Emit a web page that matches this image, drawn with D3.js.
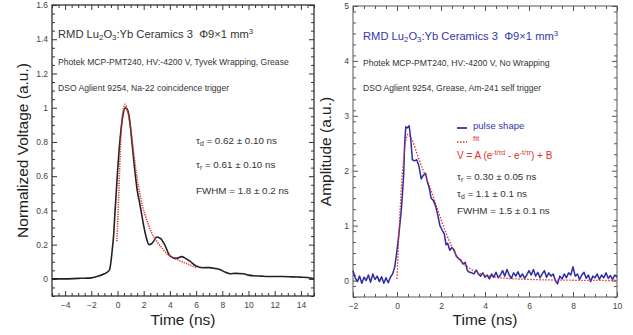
<!DOCTYPE html>
<html><head><meta charset="utf-8">
<script src="https://cdn.jsdelivr.net/npm/d3@7"></script>
<style>
body{margin:0;background:#fff;}
svg{display:block;font-family:"Liberation Sans",Arial,sans-serif;}
</style></head>
<body><svg id="c" width="633" height="335"></svg>
<script>
// ---------- data: left panel (Na-22 coincidence) ----------
const leftPulseT = [-5,-4,-3,-2.5,-2,-1.5,-1,-0.8,-0.6,-0.5,-0.4,-0.3,-0.2,-0.1,0,0.2,0.4,0.6,0.8,1.0,1.1,1.3,1.5,1.7,2.0,2.2,2.4,2.6,2.8,3.0,3.3,3.6,4.0,4.5,4.9,5.2,5.5,6.0,6.5,7.0,7.5,7.8,8.2,8.6,9.0,9.6,10.0,10.4,11.0,11.4,12.0,12.6,13.3,13.9,14.5,15];
const leftPulseV = [0.0,0.0,0.003,0.004,0.006,0.015,0.03,0.038,0.055,0.1,0.17,0.25,0.38,0.5,0.62,0.82,0.95,1.0,0.98,0.88,0.8,0.65,0.52,0.44,0.31,0.24,0.2,0.205,0.225,0.245,0.235,0.2,0.135,0.12,0.13,0.12,0.105,0.075,0.065,0.066,0.06,0.055,0.04,0.03,0.032,0.03,0.022,0.018,0.016,0.014,0.014,0.014,0.012,0.01,0.008,0.0];
const leftFitT = [-0.05,0.1,0.2,0.3,0.4,0.5,0.6,0.7,0.8,1.0,1.2,1.4,1.6,1.8,2.0,2.3,2.6,3.0,3.4,3.8,4.2,4.8,5.4,6.0];
const leftFitV = [0.22,0.5,0.72,0.88,0.97,1.01,1.02,1.0,0.97,0.88,0.76,0.64,0.54,0.46,0.4,0.33,0.27,0.22,0.18,0.145,0.125,0.105,0.085,0.066];
const leftXTicks = [-4,-2,0,2,4,6,8,10,12,14];
const leftYTicks = [0,0.2,0.4,0.6,0.8,1,1.2,1.4,1.6];

// ---------- data: right panel (Am-241 self trigger) ----------
const rightPulseT = [-2.0,-1.9,-1.8,-1.7,-1.6,-1.5,-1.4,-1.3,-1.2,-1.1,-1.0,-0.9,-0.8,-0.7,-0.6,-0.5,-0.4,-0.3,-0.2,-0.1,
  0.0,0.1,0.2,0.3,0.35,0.4,0.47,0.55,0.62,0.7,0.8,0.9,1.0,1.1,1.2,1.3,1.38,1.47,1.55,1.65,1.75,1.85,1.95,2.05,2.15,2.23,2.3,2.4,2.5,2.6,2.7,2.8,2.9,3.0,3.1,3.2,3.3,3.4,3.5,3.6,3.7,3.8,3.9,4.0,
  4.1,4.2,4.3,4.4,4.5,4.6,4.7,4.8,4.9,5.0,5.1,5.2,5.3,5.4,5.5,5.6,5.7,5.8,5.9,6.0,6.1,6.2,6.3,6.4,6.5,6.6,6.7,6.8,6.9,7.0,
  7.1,7.2,7.3,7.4,7.5,7.6,7.7,7.8,7.9,8.0,8.1,8.2,8.3,8.4,8.5,8.6,8.7,8.8,8.9,9.0,9.1,9.2,9.3,9.4,9.5,9.6,9.7,9.8,9.9,10.0];
const rightPulseV = [0.18,0.05,-0.02,0.08,-0.05,0.06,0.0,0.1,-0.03,0.12,0.02,0.08,-0.02,0.07,-0.05,0.05,-0.04,0.06,0.12,0.25,
  0.55,0.9,1.3,1.9,2.5,2.8,2.78,2.82,2.6,2.2,2.18,2.2,2.08,1.85,1.92,1.95,1.8,1.68,1.5,1.46,1.36,1.2,1.0,0.92,0.85,0.65,0.68,0.55,0.6,0.55,0.44,0.4,0.37,0.3,0.33,0.18,0.15,0.14,0.12,0.19,0.12,0.08,0.14,0.06,
  0.1,0.03,0.12,0.06,0.15,0.05,0.1,0.18,0.08,0.2,0.1,0.04,0.14,0.08,0.16,0.06,0.12,0.04,0.1,0.18,0.1,0.2,0.08,0.15,0.05,0.12,0.18,0.06,0.14,0.08,
  0.12,0.0,-0.06,0.08,0.03,0.12,0.05,0.14,0.1,0.25,0.08,0.12,0.02,0.1,0.15,0.04,0.1,-0.02,0.08,0.05,0.12,0.02,0.1,0.05,0.14,0.04,0.09,0.02,0.1,0.06];
const rightFitT = [0.0,0.05,0.1,0.2,0.3,0.4,0.5,0.6,0.7,0.9,1.2,1.5,1.8,2.1,2.4,2.7,3.0,3.3,3.6,4.0,4.5,5.0,6.0,7.0,8.0,10.0];
const rightFitV = [0.03,0.5,0.95,1.7,2.2,2.55,2.66,2.62,2.55,2.32,2.0,1.7,1.35,1.0,0.7,0.46,0.32,0.22,0.15,0.1,0.06,0.04,0.02,0.01,0.005,0.0];
const rightXTicks = [-2,0,2,4,6,8,10];
const rightYTicks = [0,1,2,3,4,5];

const svg = d3.select("#c");
const FONT_TICK = 8.5;

function panel(cfg){
  const g = svg.append("g");
  const x = d3.scaleLinear().domain(cfg.xDom).range([cfg.x0, cfg.x1]);
  const y = d3.scaleLinear().domain(cfg.yDom).range([cfg.y1, cfg.y0]);
  const xMinor = d3.range(cfg.xDom[0], cfg.xDom[1]+1e-9, cfg.xMinor).filter(v=>!cfg.xTicks.some(t=>Math.abs(t-v)<1e-9));
  const yMinor = d3.range(cfg.yDom[0], cfg.yDom[1]+1e-9, cfg.yMinor).map(v=>+v.toFixed(4)).filter(v=>!cfg.yTicks.some(t=>Math.abs(t-v)<1e-9));
  const styleAx = sel => { sel.select(".domain").remove(); sel.selectAll("line").attr("stroke", cfg.frameColor).attr("stroke-width",1);
    sel.selectAll("text").attr("font-size",FONT_TICK).attr("fill","#444").attr("font-family","Liberation Sans, Arial, sans-serif"); };
  // bottom
  g.append("g").attr("transform",`translate(0,${cfg.y1})`).call(d3.axisBottom(x).tickValues(cfg.xTicks).tickSize(-5).tickPadding(6).tickFormat(d3.format("d"))).call(styleAx);
  g.append("g").attr("transform",`translate(0,${cfg.y1})`).call(d3.axisBottom(x).tickValues(xMinor).tickSize(-3).tickFormat("")).call(styleAx);
  // top
  g.append("g").attr("transform",`translate(0,${cfg.y0})`).call(d3.axisTop(x).tickValues(cfg.xTicks).tickSize(-5).tickFormat("")).call(styleAx);
  g.append("g").attr("transform",`translate(0,${cfg.y0})`).call(d3.axisTop(x).tickValues(xMinor).tickSize(-3).tickFormat("")).call(styleAx);
  // left
  g.append("g").attr("transform",`translate(${cfg.x0},0)`).call(d3.axisLeft(y).tickValues(cfg.yTicks).tickSize(-5).tickPadding(4).tickFormat(d=>String(+d.toFixed(1)))).call(styleAx);
  g.append("g").attr("transform",`translate(${cfg.x0},0)`).call(d3.axisLeft(y).tickValues(yMinor).tickSize(-3).tickFormat("")).call(styleAx);
  // right
  g.append("g").attr("transform",`translate(${cfg.x1},0)`).call(d3.axisRight(y).tickValues(cfg.yTicks).tickSize(-5).tickFormat("")).call(styleAx);
  g.append("g").attr("transform",`translate(${cfg.x1},0)`).call(d3.axisRight(y).tickValues(yMinor).tickSize(-3).tickFormat("")).call(styleAx);
  // frame
  g.append("rect").attr("x",cfg.x0).attr("y",cfg.y0).attr("width",cfg.x1-cfg.x0).attr("height",cfg.y1-cfg.y0)
    .attr("fill","none").attr("stroke",cfg.frameColor).attr("stroke-width",cfg.frameW);
  // axis titles
  g.append("text").attr("x",(cfg.x0+cfg.x1)/2).attr("y",325).attr("text-anchor","middle").attr("font-size",15.5).attr("fill","#222").text("Time (ns)");
  g.append("text").attr("transform",`translate(${cfg.yTitleX},${(cfg.y0+cfg.y1)/2}) rotate(-90)`).attr("text-anchor","middle").attr("font-size",15.5).attr("fill","#222").text(cfg.yTitle);
  return {g,x,y};
}

function addLine(p, T, V, color, w, dash, curve){
  const data = T.map((t,i)=>[t,V[i]]);
  const line = d3.line().x(d=>p.x(d[0])).y(d=>p.y(d[1])).curve(curve || d3.curveMonotoneX);
  const path = p.g.append("path").datum(data).attr("d",line).attr("fill","none").attr("stroke",color).attr("stroke-width",w).attr("stroke-linejoin","round");
  if(dash) path.attr("stroke-dasharray",dash);
  return path;
}

// subscript/superscript helper
function richText(g, x, y, parts, size, color){
  const t = g.append("text").attr("x",x).attr("y",y).attr("font-size",size).attr("fill",color);
  parts.forEach(p=>{
    if(typeof p === "string"){ t.append("tspan").text(p); }
    else {
      const s = t.append("tspan").attr("font-size",size*0.7).text(p.t);
      s.attr("baseline-shift", p.sub ? "-25%" : "55%");
    }
  });
  return t;
}

// ---------- left panel ----------
const L = panel({xDom:[-5,15], yDom:[-0.1,1.6], x0:52, x1:314, y0:5, y1:296, xTicks:leftXTicks, yTicks:leftYTicks, xMinor:0.5, yMinor:0.05,
  frameColor:"#333", frameW:1.3, yTitle:"Normalized Voltage (a.u.)", yTitleX:28});
addLine(L, leftPulseT, leftPulseV, "#222", 1.6);
addLine(L, leftFitT, leftFitV, "#e0302a", 1.6, "1.2,1.2");

const txtL = "#333";
richText(L.g, 58, 38, ["RMD Lu",{t:"2",sub:1},"O",{t:"3",sub:1},":Yb Ceramics 3\u00A0\u00A0\u03A69\u00D71 mm",{t:"3"}], 11.2, txtL);
L.g.append("text").attr("x",58).attr("y",65).attr("font-size",8.6).attr("fill",txtL).text("Photek MCP-PMT240, HV:-4200 V, Tyvek Wrapping, Grease");
L.g.append("text").attr("x",58).attr("y",91).attr("font-size",8.6).attr("fill",txtL).text("DSO Aglient 9254, Na-22 coincidence trigger");
richText(L.g, 196, 144, ["\u03C4",{t:"d",sub:1}," = 0.62 \u00B1 0.10 ns"], 9.8, txtL);
richText(L.g, 196, 168, ["\u03C4",{t:"r",sub:1}," = 0.61 \u00B1 0.10 ns"], 9.8, txtL);
L.g.append("text").attr("x",196).attr("y",194).attr("font-size",9.8).attr("fill",txtL).text("FWHM = 1.8 \u00B1 0.2 ns");

// ---------- right panel ----------
const R = panel({xDom:[-2,10], yDom:[-0.3,5], x0:353, x1:617, y0:6, y1:297, xTicks:rightXTicks, yTicks:rightYTicks, xMinor:0.5, yMinor:0.2,
  frameColor:"#555", frameW:1, yTitle:"Amplitude (a.u.)", yTitleX:331});
addLine(R, rightPulseT, rightPulseV, "#2b2ba6", 1.5, null, d3.curveLinear);
addLine(R, rightFitT, rightFitV, "#e0302a", 1.3, "1.5,1.5");

const blue = "#3636a8", red = "#e0302a";
richText(R.g, 363, 40, ["RMD Lu",{t:"2",sub:1},"O",{t:"3",sub:1},":Yb Ceramics 3\u00A0\u00A0\u03A69\u00D71 mm",{t:"3"}], 11.2, blue);
R.g.append("text").attr("x",363).attr("y",66).attr("font-size",8.6).attr("fill",txtL).text("Photek MCP-PMT240, HV:-4200 V, No Wrapping");
R.g.append("text").attr("x",363).attr("y",91).attr("font-size",8.6).attr("fill",txtL).text("DSO Aglient 9254, Grease, Am-241 self trigger");
// legend
R.g.append("line").attr("x1",457).attr("x2",467).attr("y1",128).attr("y2",128).attr("stroke",blue).attr("stroke-width",1.8);
R.g.append("text").attr("x",473).attr("y",129).attr("font-size",9.5).attr("fill",blue).text("pulse shape");
R.g.append("line").attr("x1",457).attr("x2",467).attr("y1",142).attr("y2",142).attr("stroke",red).attr("stroke-width",1.5).attr("stroke-dasharray","1.5,1.5");
R.g.append("text").attr("x",473).attr("y",141).attr("font-size",8).attr("fill",red).text("fit");
richText(R.g, 457, 159, ["V = A (e",{t:"-t/\u03C4d"}," - e",{t:"-t/\u03C4r"},") + B"], 10, red);
richText(R.g, 457, 180, ["\u03C4",{t:"r",sub:1}," = 0.30 \u00B1 0.05 ns"], 9.8, txtL);
richText(R.g, 457, 197, ["\u03C4",{t:"d",sub:1}," = 1.1 \u00B1 0.1 ns"], 9.8, txtL);
R.g.append("text").attr("x",457).attr("y",214).attr("font-size",9.8).attr("fill",txtL).text("FWHM = 1.5 \u00B1 0.1 ns");
</script></body></html>
